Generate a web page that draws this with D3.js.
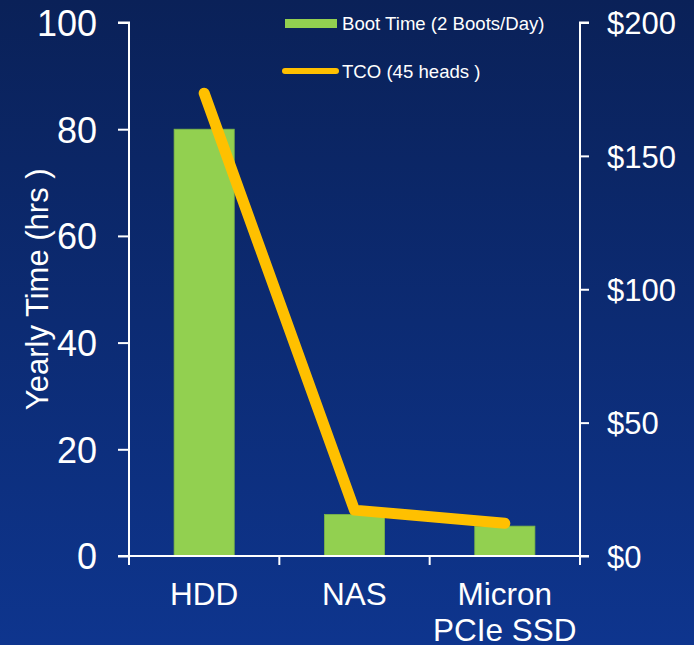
<!DOCTYPE html>
<html><head><meta charset="utf-8">
<script src="https://cdn.jsdelivr.net/npm/d3@7"></script>
<style>html,body{margin:0;padding:0;background:#0c2a70;}svg{display:block;font-family:"Liberation Sans",Arial,sans-serif;}</style>
</head><body>
<script>
const categories = ["HDD", "NAS", "Micron\nPCIe SSD"];
const bootHours = [80, 7.8, 5.6];
const tcoDollars = [173.5, 17.2, 12.3];
const leftTicks = [0, 20, 40, 60, 80, 100];
const rightTicks = [0, 50, 100, 150, 200];
const seriesNames = ["Boot Time (2 Boots/Day)", "TCO (45 heads )"];
const yTitle = "Yearly Time (hrs )";

const W = 694, H = 645;
const svg = d3.select("body").append("svg").attr("width", W).attr("height", H);
const defs = svg.append("defs");
const grad = defs.append("linearGradient").attr("id","bg").attr("x1",0).attr("y1",0).attr("x2",0).attr("y2",1);
grad.append("stop").attr("offset","0%").attr("stop-color","#0a2158");
grad.append("stop").attr("offset","100%").attr("stop-color","#0e358e");
svg.append("rect").attr("width",W).attr("height",H).attr("fill","url(#bg)");

const x = d3.scaleBand().domain(categories).range([129, 580]).padding(0);
const yL = d3.scaleLinear().domain([0,100]).range([556, 22.5]);
const yR = d3.scaleLinear().domain([0,200]).range([556, 22.5]);
const white = "#ffffff";

// bars
svg.append("g").selectAll("rect").data(categories).join("rect")
  .attr("x", d => x(d) + x.bandwidth()*0.3)
  .attr("width", x.bandwidth()*0.4)
  .attr("y", (d,i) => yL(bootHours[i]))
  .attr("height", (d,i) => yL(0) - yL(bootHours[i]))
  .attr("fill", "#92d050")
  .attr("stroke", "#7ab648").attr("stroke-width", 0.8);

// left axis
const gl = svg.append("g").attr("transform","translate(129,0)")
  .call(d3.axisLeft(yL).tickValues(leftTicks).tickSize(11).tickPadding(21).tickFormat(d3.format("d")));
gl.selectAll("path,line").attr("stroke", white).attr("stroke-width", 2);
gl.select(".domain").attr("d", `M-11,${yL(100)}H0V${yL(0)}`);
gl.selectAll("text").attr("fill", white).attr("font-size", 36).attr("font-family","Liberation Sans, Arial, sans-serif").attr("dy","0.36em");

// right axis
const gr = svg.append("g").attr("transform","translate(580,0)")
  .call(d3.axisRight(yR).tickValues(rightTicks).tickSize(9).tickPadding(18).tickFormat(d => "$" + d));
gr.selectAll("path,line").attr("stroke", white).attr("stroke-width", 2);
gr.select(".domain").attr("d", `M9,${yR(200)}H0V${yR(0)}`);
gr.selectAll("text").attr("fill", white).attr("font-size", 31).attr("font-family","Liberation Sans, Arial, sans-serif").attr("dy","0.36em");

// x axis
const bounds = categories.map(c => x(c)).concat([x(categories[categories.length-1]) + x.bandwidth()]);
const gx = svg.append("g");
gx.append("line").attr("x1", 118).attr("x2", 589).attr("y1", yL(0)).attr("y2", yL(0)).attr("stroke", white).attr("stroke-width", 2);
gx.selectAll("line.t").data(bounds).join("line").attr("class","t")
  .attr("x1", d => d).attr("x2", d => d).attr("y1", yL(0)).attr("y2", yL(0)+9)
  .attr("stroke", white).attr("stroke-width", 2);
gx.selectAll("text").data(categories).join("text")
  .attr("x", d => x(d) + x.bandwidth()/2).attr("y", 605)
  .attr("text-anchor","middle").attr("fill", white).attr("font-size", 31.5)
  .each(function(d){
    const lines = d.split("\n");
    d3.select(this).selectAll("tspan").data(lines).join("tspan")
      .attr("x", x(d) + x.bandwidth()/2).attr("dy", (l,i) => i ? 36 : 0).text(l => l);
  });

// y title
svg.append("text").attr("transform", `translate(48,${(yL(0)+yL(100))/2}) rotate(-90)`)
  .attr("text-anchor","middle").attr("fill", white).attr("font-size", 31).text(yTitle);

// TCO line
const line = d3.line().x((d,i) => x(categories[i]) + x.bandwidth()/2).y(d => yR(d));
svg.append("path").datum(tcoDollars).attr("d", line)
  .attr("fill","none").attr("stroke","#ffc000").attr("stroke-width", 11)
  .attr("stroke-linecap","round").attr("stroke-linejoin","round");

// legend
const lg = svg.append("g");
lg.append("rect").attr("x", 285).attr("y", 19).attr("width", 52).attr("height", 9).attr("fill", "#92d050");
lg.append("text").attr("x", 342).attr("y", 30).attr("fill", white).attr("font-size", 18.6).text(seriesNames[0]);
lg.append("line").attr("x1", 285).attr("x2", 336).attr("y1", 71).attr("y2", 71)
  .attr("stroke","#ffc000").attr("stroke-width", 6).attr("stroke-linecap","round");
lg.append("text").attr("x", 342).attr("y", 77.5).attr("fill", white).attr("font-size", 18.6).text(seriesNames[1]);
</script>
</body></html>
